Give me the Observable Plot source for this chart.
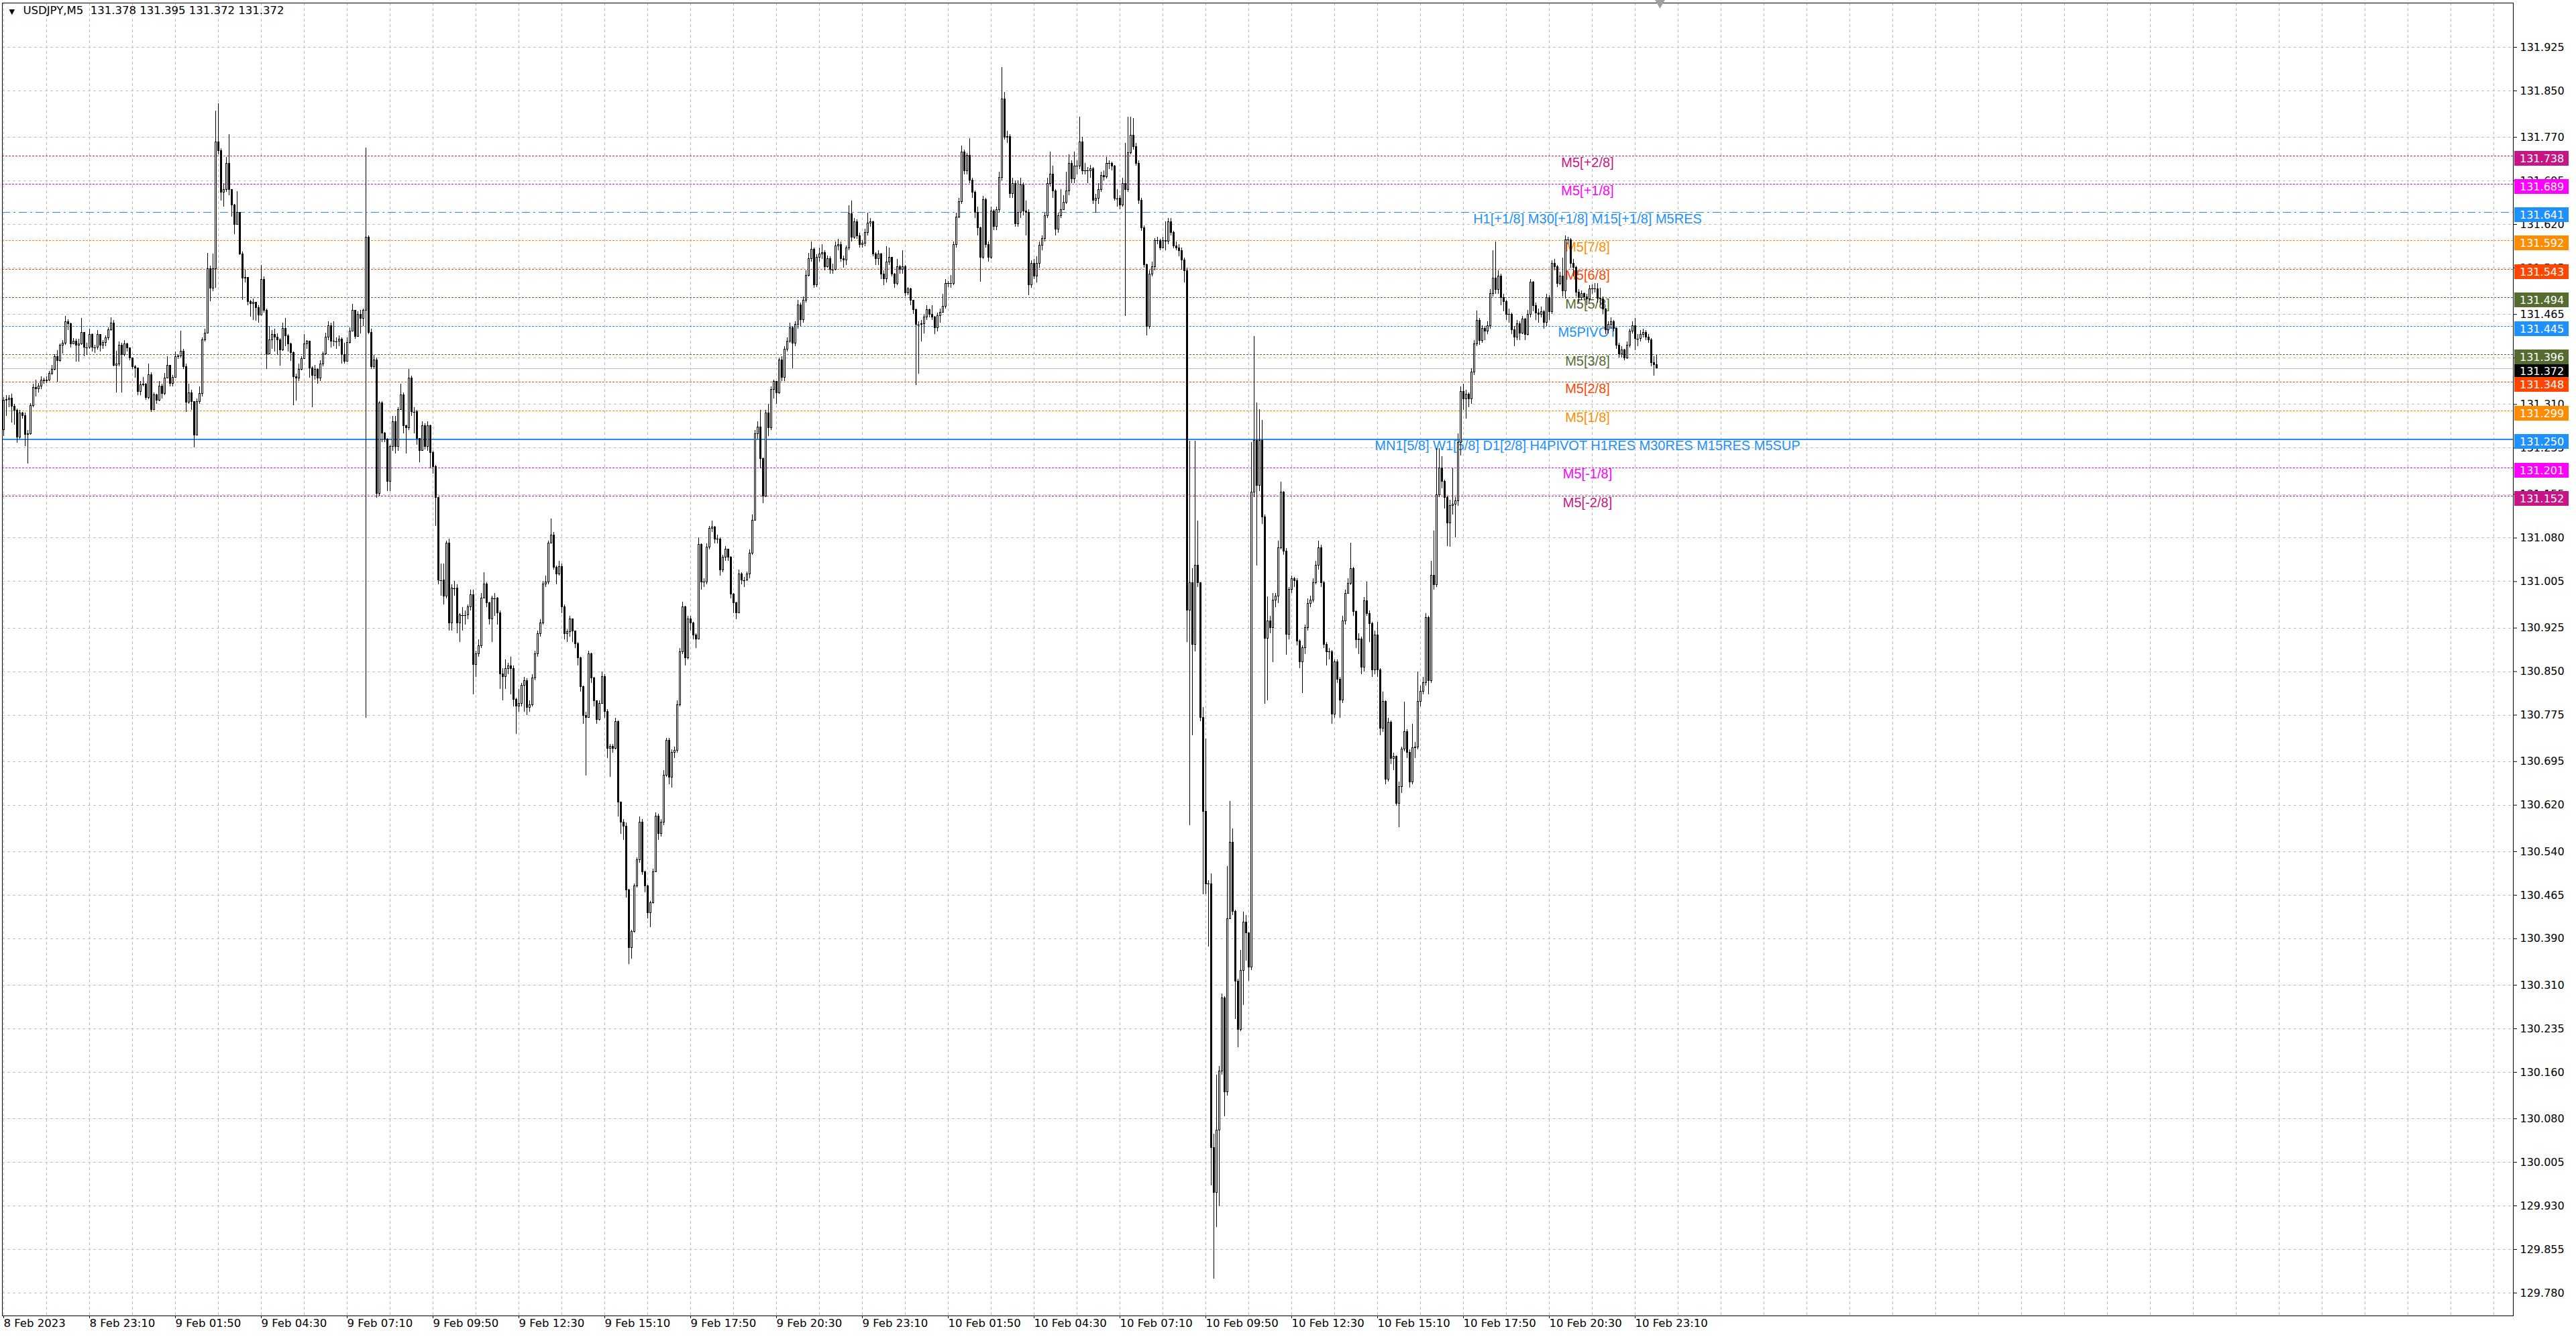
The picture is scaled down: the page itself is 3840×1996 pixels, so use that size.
<!DOCTYPE html>
<html><head><meta charset="utf-8">
<script src="https://cdn.jsdelivr.net/npm/d3@7"></script>
<script src="https://cdn.jsdelivr.net/npm/@observablehq/plot@0.6"></script>
<style>
html,body{margin:0;padding:0;background:#fff;overflow:hidden;}
#chart{width:3840px;height:1996px;}
</style></head><body><div id="chart"></div>
<script>
// ---------- DATA ----------
const symbolName = "USDJPY,M5";
const lastBarOHLC = ["131.378", "131.395", "131.372", "131.372"];
const firstBarTime = "2023-02-08T20:30:00Z";   // M5 bars, one every 5 minutes
// prices in 0.001 JPY above 130.000
const firstOpen = 1266;
const closes = [
1317,1318,1320,1306,1300,1253,1295,1290,1258,1259,
1308,1339,1336,1341,1352,1350,1352,1363,1370,1392,
1385,1412,1415,1452,1449,1414,1418,1412,1414,1434,
1408,1408,1430,1408,1408,1430,1412,1416,1424,1438,
1450,1377,1379,1412,1395,1414,1407,1390,1374,1372,
1332,1343,1345,1321,1361,1301,1326,1317,1341,1328,
1355,1377,1346,1356,1392,1393,1401,1375,1313,1330,
1315,1257,1315,1328,1421,1432,1543,1510,1543,1761,
1746,1675,1680,1724,1680,1653,1620,1640,1569,1527,
1528,1487,1483,1485,1476,1464,1525,1472,1397,1421,
1430,1425,1421,1403,1440,1428,1414,1399,1357,1355,
1370,1388,1414,1418,1372,1359,1370,1355,1379,1397,
1425,1445,1419,1418,1418,1422,1395,1384,1416,1436,
1472,1427,1465,1458,1472,1598,1434,1374,1386,1156,
1312,1260,1250,1177,1237,1280,1237,1301,1326,1273,
1269,1355,1297,1297,1251,1230,1273,1237,1273,1227,
1202,1149,1007,1007,979,1071,933,993,993,933,
947,947,947,961,982,862,880,894,976,1000,
968,940,976,976,951,845,841,855,859,855,
802,790,795,826,834,788,792,838,880,915,
933,1000,1004,1071,1085,1029,1018,1030,961,915,
918,940,919,898,873,823,774,770,880,838,
799,767,795,841,781,717,721,717,763,625,
590,583,473,374,402,480,526,590,505,480,
434,452,505,601,570,590,671,731,668,710,
714,792,884,961,873,940,933,912,905,1068,
1004,1004,1064,1096,1099,1078,1078,1025,1046,1060,
1046,983,968,951,1018,1007,1007,1018,1053,1110,
1259,1270,1216,1152,1295,1269,1335,1349,1330,1386,
1356,1404,1418,1441,1415,1447,1481,1455,1489,1532,
1561,1577,1516,1563,1569,1571,1547,1561,1542,1542,
1582,1585,1561,1558,1579,1638,1598,1624,1600,1585,
1587,1606,1622,1624,1569,1561,1569,1534,1526,1555,
1563,1534,1518,1547,1542,1547,1502,1508,1489,1473,
1447,1447,1449,1460,1473,1465,1460,1441,1462,1468,
1478,1518,1518,1518,1585,1632,1659,1744,1712,1738,
1696,1675,1640,1614,1563,1662,1585,1563,1643,1616,
1645,1700,1836,1770,1771,1672,1690,1621,1640,1688,
1643,1640,1515,1552,1531,1552,1584,1595,1635,1690,
1706,1677,1611,1635,1645,1657,1677,1725,1698,1720,
1720,1762,1712,1712,1712,1715,1661,1664,1680,1704,
1702,1725,1725,1720,1664,1664,1653,1690,1680,1743,
1773,1754,1725,1661,1614,1550,1444,1534,1547,1592,
1592,1579,1592,1590,1624,1605,1582,1579,1574,1558,
1540,955,1003,896,1033,1003,770,609,484,484,
30,-47,60,162,287,126,424,555,436,317,
233,335,418,400,341,1158,1248,1170,1248,1116,
907,937,925,973,979,1063,1158,1057,914,991,
1009,1006,902,866,890,925,967,973,1003,1033,
1063,1003,896,884,884,776,866,836,800,937,
984,1002,1027,953,904,906,857,971,950,932,
852,912,852,752,798,664,762,700,703,623,
651,716,746,710,659,718,720,798,816,831,
942,834,1015,999,1154,1200,1177,1149,1105,1136,
1138,1143,1244,1332,1319,1327,1319,1365,1414,1454,
1420,1440,1436,1445,1500,1527,1507,1531,1493,1487,
1465,1465,1438,1425,1449,1432,1456,1430,1465,1520,
1480,1467,1465,1469,1451,1493,1469,1553,1547,1518,
1531,1505,1593,1593,1553,1545,1503,1494,1500,1495,
1491,1509,1509,1509,1492,1491,1474,1438,1447,1452,
1440,1412,1396,1403,1390,1412,1436,1445,1423,1423,
1430,1434,1425,1421,1381,1378,1372];
const highs = [
1322,1325,1325,1328,1310,1302,1300,1297,1295,1265,
1312,1345,1352,1346,1358,1356,1358,1367,1378,1396,
1403,1414,1420,1462,1456,1450,1424,1422,1423,1458,
1430,1415,1440,1432,1412,1437,1430,1420,1428,1442,
1460,1455,1402,1418,1416,1420,1416,1408,1390,1378,
1372,1350,1357,1346,1380,1365,1330,1328,1350,1345,
1363,1392,1378,1360,1400,1396,1436,1405,1380,1345,
1335,1315,1320,1340,1425,1440,1570,1548,1569,1815,
1828,1750,1690,1736,1775,1680,1655,1677,1640,1573,
1542,1528,1490,1492,1483,1480,1550,1530,1475,1445,
1437,1440,1432,1424,1450,1458,1430,1416,1400,1362,
1380,1393,1430,1420,1415,1375,1378,1372,1385,1400,
1433,1452,1450,1452,1425,1428,1425,1415,1425,1442,
1482,1472,1470,1472,1475,1752,1600,1440,1395,1390,
1315,1315,1262,1252,1240,1290,1290,1305,1345,1330,
1275,1370,1359,1305,1300,1252,1280,1277,1280,1275,
1230,1205,1150,1036,1036,1075,1078,1000,1005,1000,
950,960,955,965,990,990,885,905,985,1020,
1003,970,980,985,978,955,855,870,865,875,
860,805,820,830,840,838,800,845,885,920,
940,1005,1015,1075,1113,1090,1032,1040,1035,965,
922,945,940,920,900,875,825,780,885,882,
840,800,800,850,845,785,725,725,770,765,
625,595,590,475,405,485,530,600,595,507,
482,455,510,607,605,595,680,735,735,715,
720,800,890,970,963,945,945,935,915,1080,
1070,1010,1070,1100,1110,1100,1085,1080,1050,1065,
1050,1048,985,970,1025,1020,1012,1022,1060,1120,
1265,1280,1300,1218,1300,1310,1340,1352,1350,1390,
1392,1410,1425,1450,1445,1452,1490,1485,1495,1540,
1570,1590,1580,1568,1580,1585,1575,1566,1565,1552,
1590,1595,1590,1566,1583,1652,1660,1630,1628,1605,
1592,1612,1640,1630,1626,1572,1575,1570,1540,1582,
1580,1560,1536,1560,1550,1575,1550,1512,1510,1490,
1475,1452,1455,1465,1480,1475,1480,1462,1468,1475,
1500,1525,1522,1532,1590,1640,1665,1755,1748,1742,
1768,1700,1678,1650,1615,1668,1665,1590,1650,1645,
1650,1710,1890,1847,1780,1775,1700,1695,1695,1700,
1692,1660,1645,1558,1560,1565,1590,1600,1640,1700,
1745,1720,1680,1640,1680,1670,1710,1740,1730,1745,
1730,1805,1770,1725,1718,1722,1718,1672,1690,1710,
1712,1735,1730,1728,1722,1680,1670,1700,1760,1805,
1805,1802,1760,1730,1665,1618,1552,1540,1555,1596,
1598,1595,1598,1625,1630,1630,1608,1590,1585,1580,
1562,1545,1247,1027,1247,1110,1003,788,734,490,
502,54,155,170,295,290,514,627,579,440,
320,370,436,430,360,1245,1427,1313,1301,1283,
1120,979,945,985,985,1075,1176,1160,1062,995,
1015,1012,1010,905,895,930,975,980,1010,1040,
1075,1068,1005,900,890,886,870,870,840,945,
990,1010,1071,1030,955,915,910,978,1004,955,
935,920,935,855,815,800,770,765,710,705,
660,720,798,750,715,760,728,850,825,840,
950,945,1040,1092,1234,1234,1220,1180,1152,1145,
1200,1150,1260,1340,1345,1335,1330,1372,1420,1471,
1458,1446,1445,1452,1508,1575,1590,1540,1535,1500,
1490,1475,1468,1445,1455,1452,1462,1458,1472,1525,
1522,1485,1475,1478,1472,1500,1498,1558,1560,1550,
1538,1562,1600,1598,1596,1560,1548,1508,1506,1502,
1500,1515,1516,1518,1518,1510,1495,1476,1452,1460,
1455,1442,1415,1410,1405,1418,1440,1452,1458,1430,
1438,1440,1438,1430,1424,1392,1395];
const lows = [
1255,1290,1305,1278,1275,1243,1250,1285,1238,1208,
1257,1305,1323,1330,1336,1345,1346,1350,1360,1368,
1349,1383,1397,1412,1438,1408,1413,1383,1383,1412,
1393,1395,1405,1400,1398,1404,1400,1405,1410,1420,
1436,1375,1330,1375,1330,1392,1400,1385,1370,1355,
1326,1325,1340,1317,1318,1296,1300,1310,1315,1320,
1325,1355,1340,1340,1355,1388,1390,1370,1296,1310,
1300,1235,1257,1310,1323,1418,1432,1487,1505,1510,
1740,1660,1650,1675,1670,1633,1603,1630,1567,1490,
1520,1480,1461,1455,1454,1450,1470,1467,1370,1400,
1405,1400,1395,1376,1402,1410,1400,1384,1308,1316,
1350,1368,1395,1405,1355,1305,1352,1345,1350,1375,
1395,1420,1408,1410,1405,1410,1380,1380,1385,1414,
1445,1422,1427,1432,1445,770,1430,1370,1370,1149,
1152,1245,1245,1160,1160,1230,1225,1230,1300,1260,
1225,1265,1290,1260,1240,1210,1230,1232,1230,1200,
1190,1100,1000,980,965,975,920,920,980,915,
900,920,930,940,955,810,840,875,890,985,
960,930,900,945,930,820,800,820,845,810,
790,742,780,790,780,775,780,790,835,875,
910,930,995,1000,1075,1025,1000,1015,950,905,
900,910,900,890,860,815,760,671,770,830,
790,760,765,795,770,700,668,710,715,600,
570,560,460,346,355,400,478,520,500,470,
425,410,450,505,560,565,585,668,655,650,
700,710,790,880,860,870,920,905,890,905,
990,995,1000,1060,1090,1070,1070,1015,1020,1040,
1040,975,950,940,950,1000,995,1005,1010,1050,
1110,1250,1200,1140,1150,1255,1265,1320,1310,1328,
1350,1350,1400,1415,1372,1410,1440,1445,1450,1485,
1530,1555,1510,1512,1555,1560,1540,1545,1535,1535,
1540,1575,1555,1545,1550,1575,1590,1595,1595,1580,
1580,1582,1600,1615,1565,1550,1550,1525,1515,1520,
1550,1530,1510,1515,1535,1535,1495,1498,1480,1465,
1343,1362,1418,1432,1455,1460,1455,1430,1435,1450,
1470,1475,1512,1510,1515,1580,1630,1655,1705,1705,
1690,1665,1630,1600,1521,1560,1580,1555,1560,1610,
1610,1640,1695,1765,1760,1665,1665,1615,1615,1630,
1635,1600,1497,1510,1525,1520,1545,1575,1590,1630,
1685,1665,1600,1605,1630,1645,1655,1670,1690,1690,
1705,1715,1705,1705,1690,1700,1655,1640,1655,1675,
1695,1698,1715,1712,1660,1650,1645,1650,1462,1675,
1740,1748,1720,1655,1608,1545,1428,1440,1530,1540,
1585,1575,1580,1575,1585,1600,1578,1575,1565,1542,
1520,900,585,740,884,995,764,466,466,376,
-35,-196,-107,-71,155,84,120,424,430,251,
203,230,275,352,317,335,1150,1032,1160,1104,
794,800,915,866,960,967,1060,1050,878,905,
985,995,895,855,812,880,920,960,968,1000,
1025,995,890,860,870,760,770,830,770,795,
930,985,998,945,890,880,845,850,945,900,
840,845,840,740,745,655,660,690,680,618,
581,640,712,700,650,655,700,715,790,810,
825,810,830,990,995,1150,1165,1130,1066,1064,
1120,1080,1135,1221,1300,1285,1305,1310,1360,1410,
1412,1415,1420,1430,1440,1495,1500,1500,1480,1470,
1455,1450,1430,1410,1420,1420,1430,1420,1428,1460,
1470,1455,1450,1460,1440,1445,1455,1465,1540,1512,
1515,1495,1492,1585,1545,1530,1495,1485,1490,1488,
1480,1488,1500,1502,1485,1480,1465,1430,1432,1440,
1435,1405,1390,1390,1385,1388,1408,1432,1403,1410,
1418,1425,1420,1415,1375,1359,1372];

const timeTicks = ["2023-02-08T20:30:00Z","2023-02-08T23:10:00Z","2023-02-09T01:50:00Z","2023-02-09T04:30:00Z",
"2023-02-09T07:10:00Z","2023-02-09T09:50:00Z","2023-02-09T12:30:00Z","2023-02-09T15:10:00Z","2023-02-09T17:50:00Z",
"2023-02-09T20:30:00Z","2023-02-09T23:10:00Z","2023-02-10T01:50:00Z","2023-02-10T04:30:00Z","2023-02-10T07:10:00Z",
"2023-02-10T09:50:00Z","2023-02-10T12:30:00Z","2023-02-10T15:10:00Z","2023-02-10T17:50:00Z","2023-02-10T20:30:00Z",
"2023-02-10T23:10:00Z"];
const timeTickLabels = ["8 Feb 2023","8 Feb 23:10","9 Feb 01:50","9 Feb 04:30","9 Feb 07:10","9 Feb 09:50",
"9 Feb 12:30","9 Feb 15:10","9 Feb 17:50","9 Feb 20:30","9 Feb 23:10","10 Feb 01:50","10 Feb 04:30",
"10 Feb 07:10","10 Feb 09:50","10 Feb 12:30","10 Feb 15:10","10 Feb 17:50","10 Feb 20:30","10 Feb 23:10"];

const priceTicks = [131.925,131.850,131.770,131.695,131.620,131.545,131.465,131.390,131.310,131.235,131.155,
131.080,131.005,130.925,130.850,130.775,130.695,130.620,130.540,130.465,130.390,130.310,130.235,130.160,
130.080,130.005,129.930,129.855,129.780];

const levelPrices = [131.738,131.689,131.641,131.592,131.543,131.494,131.445,131.396,131.348,131.299,131.250,131.201,131.152];
const levelNames = ["M5[+2/8]","M5[+1/8]","H1[+1/8] M30[+1/8] M15[+1/8] M5RES","M5[7/8]","M5[6/8]","M5[5/8]",
"M5PIVOT","M5[3/8]","M5[2/8]","M5[1/8]","MN1[5/8] W1[5/8] D1[2/8] H4PIVOT H1RES M30RES M15RES M5SUP","M5[-1/8]","M5[-2/8]"];
const currentPrice = 131.372;

// ---------- STYLE ----------
const levelColors = ["#C71585","#FF00FF","#1E90FF","#FF8C00","#FF4500","#556B2F","#1E90FF","#556B2F","#FF4500","#FF8C00","#1E90FF","#FF00FF","#C71585"];
const levelStyles = ["dot","dot","dashdot","dot","dot","dot","dot","dot","dot","dot","solid","dot","dot"];

// ---------- BUILD ----------
const W = 3840, H = 1996;
const mL = 3, mR = 94, mT = 4, mB = 35;
const MIN = 60000, BAR = 5 * MIN;
const t0 = Date.parse(firstBarTime);
const toPrice = v => 130 + v / 1000;

const bars = closes.map((c, i) => {
  const o = i === 0 ? firstOpen : closes[i - 1];
  return {
    t: new Date(t0 + i * BAR),
    open: toPrice(o), close: toPrice(c),
    high: toPrice(Math.max(highs[i], o, c)),
    low: toPrice(Math.min(lows[i], o, c))
  };
});
const bodies = bars.filter(d => d.open !== d.close);
const dojis = bars.filter(d => d.open === d.close);

const levels = levelPrices.map((p, i) => ({price: p, name: levelNames[i], color: levelColors[i], style: levelStyles[i]}));
const tickDates = timeTicks.map(s => new Date(s));
const tickLabelMap = new Map(tickDates.map((d, i) => [+d, timeTickLabels[i]]));

const xDomain = [new Date(t0 - 0.5 * BAR), new Date(t0 + 935.25 * BAR)];
const yDomain = [129.7406, 132.0012];
const gridTimes = d3.range(0, 936, 16).map(k => new Date(t0 + k * BAR));
const labelTime = new Date(t0 + 590.25 * BAR);

const lineFont = "'Liberation Sans', Arial, sans-serif";
const axisFont = "'DejaVu Sans', Verdana, sans-serif";
const crisp = "crispEdges";

const chart = Plot.plot({
  width: W, height: H,
  marginLeft: mL, marginRight: mR, marginTop: mT, marginBottom: mB,
  x: {type: "utc", domain: xDomain},
  y: {domain: yDomain},
  color: {type: "identity"},
  style: {fontFamily: axisFont, fontSize: "16px", background: "white", color: "black"},
  marks: [
    // grid
    Plot.ruleY(priceTicks, {stroke: "#c0c0c0", strokeDasharray: "4,4", shapeRendering: crisp}),
    Plot.ruleX(gridTimes, {stroke: "#c0c0c0", strokeDasharray: "4,4", shapeRendering: crisp}),
    // current price line
    Plot.ruleY([currentPrice], {stroke: "#c0c0c0", strokeWidth: 1, shapeRendering: crisp}),
    // Murrey levels
    Plot.ruleY(levels.filter(d => d.style === "dot"), {y: "price", stroke: "color", strokeWidth: 1, strokeDasharray: "3,2", shapeRendering: crisp}),
    Plot.ruleY(levels.filter(d => d.style === "dashdot"), {y: "price", stroke: "color", strokeWidth: 1, strokeDasharray: "12,5,3,5", shapeRendering: crisp}),
    Plot.ruleY(levels.filter(d => d.style === "solid"), {y: "price", stroke: "color", strokeWidth: 2, shapeRendering: crisp}),
    Plot.text(levels, {x: () => labelTime, y: "price", text: "name", fill: "color", fontFamily: lineFont, fontSize: 20,
      textAnchor: "middle", lineAnchor: "top", dy: 2}),
    // candles
    Plot.ruleX(bars, {x: "t", y1: "low", y2: "high", stroke: "black", strokeWidth: 1, shapeRendering: crisp}),
    Plot.rect(bodies, {x1: d => new Date(+d.t - 1.25 * MIN), x2: d => new Date(+d.t + 1.25 * MIN),
      y1: "open", y2: "close", fill: d => d.close > d.open ? "white" : "black", stroke: "black", strokeWidth: 1, shapeRendering: crisp}),
    Plot.ruleY(dojis, {y: "close", x1: d => new Date(+d.t - 1.9 * MIN), x2: d => new Date(+d.t + 1.9 * MIN), stroke: "black", shapeRendering: crisp}),
    // axes
    Plot.axisY(priceTicks, {anchor: "right", tickSize: 5, tickPadding: 5, tickFormat: d => d.toFixed(3), label: null,
      fontSize: 16, fontFamily: axisFont, stroke: "black"}),
    Plot.axisX(tickDates, {anchor: "bottom", tickSize: 4, tickPadding: 1, tickFormat: d => tickLabelMap.get(+d),
      textAnchor: "start", dx: 0, label: null, fontSize: 16.5, fontFamily: axisFont, stroke: "black"}),
    Plot.frame({stroke: "black", strokeWidth: 1, shapeRendering: crisp}),
    // header
    Plot.text(["\u25BC"], {text: d => d, frameAnchor: "top-left", dx: 10, dy: 9, lineAnchor: "top", fontSize: 11, fill: "black"}),
    Plot.text([`${symbolName}  ${lastBarOHLC.join(" ")}`], {text: d => d, frameAnchor: "top-left", dx: 31, dy: 5,
      lineAnchor: "top", textAnchor: "start", fontSize: 16.5, fontFamily: axisFont, fill: "black"}),
    // chart-shift marker
    Plot.dot([bars[bars.length - 1].t], {x: d => new Date(+d + 1.25 * BAR), frameAnchor: "top", dy: -1,
      symbol: "triangle", rotate: 180, r: 6, fill: "#a0a0a0", stroke: "none"})
  ]
});
document.getElementById("chart").appendChild(chart);

// price tags on the right price scale (positioned with Plot's y scale)
const svg = d3.select(chart);
const ys = chart.scale("y");
const xRight = W - mR;
const tagG = svg.append("g").attr("font-family", axisFont).attr("font-size", 16).attr("text-anchor", "start");
const tagRows = [{price: currentPrice, color: "#000000"}, ...levels];
for (const d of tagRows) {
  const y = Math.round(ys.apply(d.price));
  tagG.append("rect").attr("x", xRight + 2).attr("y", y - 7).attr("width", 81).attr("height", 22)
    .attr("fill", d.color).attr("shape-rendering", "crispEdges");
  tagG.append("text").attr("x", xRight + 10).attr("y", y + 4).attr("dy", "0.36em").attr("fill", "white")
    .attr("text-anchor", "start").text(d.price.toFixed(3));
}
</script></body></html>
